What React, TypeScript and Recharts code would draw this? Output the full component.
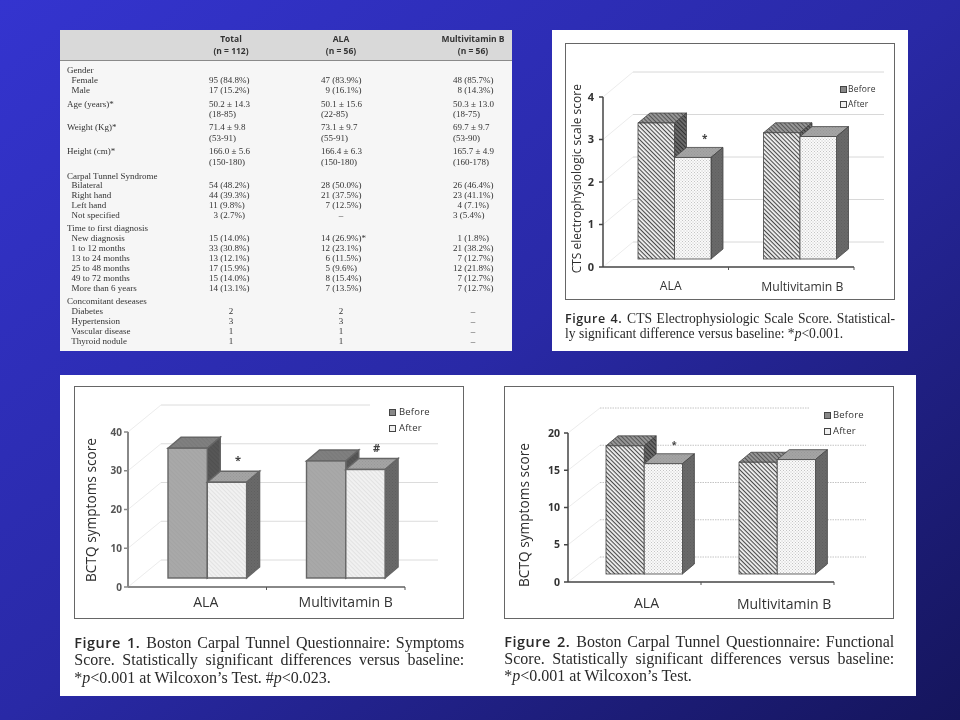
import React from "react";
import { BarChart, Bar, XAxis, YAxis, CartesianGrid, Legend } from "recharts";

const categories = ["ALA", "Multivitamin B"];

const fig4Before = [3.2, 2.97];
const fig4After = [2.39, 2.88];
const fig4Ticks = [0, 1, 2, 3, 4];
const fig4Marks = ["*", ""];

const fig1Before = [33.5, 30.2];
const fig1After = [24.7, 28];
const fig1Ticks = [0, 10, 20, 30, 40];
const fig1Marks = ["*", "#"];

const fig2Before = [17.2, 15];
const fig2After = [14.8, 15.35];
const fig2Ticks = [0, 5, 10, 15, 20];
const fig2Marks = ["*", ""];

const tableHeads = [
  ["Total", "(n = 112)"],
  ["ALA", "(n = 56)"],
  ["Multivitamin B", "(n = 56)"],
];

const tableRows = [
  ["Gender", "", "", ""],
  ["  Female", "95 (84.8%)", "47 (83.9%)", "48 (85.7%)"],
  ["  Male", "17 (15.2%)", "\u20079 (16.1%)", "\u20078 (14.3%)"],
  ["Age (years)*", "50.2 ± 14.3", "50.1 ± 15.6", "50.3 ± 13.0"],
  ["", "(18-85)", "(22-85)", "(18-75)"],
  ["Weight (Kg)*", "71.4 ± 9.8", "73.1 ± 9.7", "69.7 ± 9.7"],
  ["", "(53-91)", "(55-91)", "(53-90)"],
  ["Height (cm)*", "166.0 ± 5.6", "166.4 ± 6.3", "165.7 ± 4.9"],
  ["", "(150-180)", "(150-180)", "(160-178)"],
  ["Carpal Tunnel Syndrome", "", "", ""],
  ["  Bilateral", "54 (48.2%)", "28 (50.0%)", "26 (46.4%)"],
  ["  Right hand", "44 (39.3%)", "21 (37.5%)", "23 (41.1%)"],
  ["  Left hand", "11 (9.8%)", "\u20077 (12.5%)", "\u20074 (7.1%)"],
  ["  Not specified", "\u20073 (2.7%)", "–", "3 (5.4%)"],
  ["Time to first diagnosis", "", "", ""],
  ["  New diagnosis", "15 (14.0%)", "14 (26.9%)*", "\u20071 (1.8%)"],
  ["  1 to 12 months", "33 (30.8%)", "12 (23.1%)", "21 (38.2%)"],
  ["  13 to 24 months", "13 (12.1%)", "\u20076 (11.5%)", "\u20077 (12.7%)"],
  ["  25 to 48 months", "17 (15.9%)", "\u20075 (9.6%)", "12 (21.8%)"],
  ["  49 to 72 months", "15 (14.0%)", "\u20078 (15.4%)", "\u20077 (12.7%)"],
  ["  More than 6 years", "14 (13.1%)", "\u20077 (13.5%)", "\u20077 (12.7%)"],
  ["Concomitant deseases", "", "", ""],
  ["  Diabetes", "2", "2", "–"],
  ["  Hypertension", "3", "3", "–"],
  ["  Vascular disease", "1", "1", "–"],
  ["  Thyroid nodule", "1", "1", "–"],
];
const tableRowY = [70, 80, 90, 103.5, 114, 127, 138, 151, 162, 175.5, 184.5, 194.5, 204.5, 214.5, 228, 238, 248, 258, 268, 278, 288, 301, 311, 321, 331, 341];

const SANS = "'Open Sans', sans-serif";
const SERIF = "'Liberation Serif', serif";

// hatch fills shared by the before/after faces
function Patterns({ id, solid }: { id: string; solid: boolean }) {
  const hatch = (name: string, bg: string, ink: string, gap = 3) => (
    <pattern id={id + name} width={gap} height={gap} patternUnits="userSpaceOnUse" patternTransform="rotate(45)">
      <rect width={gap} height={gap} fill={bg} />
      <rect width={gap} height={1.1} fill={ink} />
    </pattern>
  );
  const dots = (name: string, bg: string, ink: string) => (
    <pattern id={id + name} width={3} height={3} patternUnits="userSpaceOnUse">
      <rect width={3} height={3} fill={bg} />
      <rect width={1} height={1} fill={ink} />
      <rect x={1.5} y={1.5} width={1} height={1} fill={ink} />
    </pattern>
  );
  return (
    <defs>
      {solid ? hatch("bf", "#a9a9a9", "#a4a4a4") : hatch("bf", "#f2f2f2", "#4a4a4a")}
      {solid ? hatch("bt", "#808080", "#7a7a7a") : hatch("bt", "#9a9a9a", "#555555")}
      {solid ? hatch("bs", "#575757", "#505050") : hatch("bs", "#6e6e6e", "#333333")}
      {solid ? hatch("af", "#f2f2f2", "#e2e2e2") : dots("af", "#fafafa", "#c4c4c4")}
      {dots("at", "#a4a4a4", "#989898")}
      {dots("as", "#696969", "#5f5f5f")}
    </defs>
  );
}

function makeBarShape(id: string, kind: "b" | "a", cfg: any, marks?: string[]) {
  return (props: any) => {
    const { x, y, width, height, index } = props;
    const left = x + cfg.shiftX;
    const top = y - cfg.shiftY;
    const right = left + width;
    const bottom = top + height;
    const dx = cfg.sideX;
    const dy = cfg.sideY;
    const edge = { stroke: cfg.edgeColor, strokeWidth: cfg.edgeWidth };
    const mark = marks ? marks[index] : "";
    return (
      <g>
        <polygon points={`${left},${top} ${left + dx},${top - dy} ${right + dx},${top - dy} ${right},${top}`} fill={`url(#${id}${kind}t)`} {...edge} />
        <polygon points={`${right},${top} ${right + dx},${top - dy} ${right + dx},${bottom - dy} ${right},${bottom}`} fill={`url(#${id}${kind}s)`} {...edge} />
        <rect x={left} y={top} width={width} height={height} fill={`url(#${id}${kind}f)`} {...edge} />
        {mark ? (
          <text x={left + width / 2 + cfg.markX} y={top + cfg.markY} textAnchor="middle" fontFamily={SANS} fontSize={cfg.markSize} fontWeight={700} fill="#444">
            {mark}
          </text>
        ) : null}
      </g>
    );
  };
}

function Figure({ id, cfg, before, after, ticks, marks, solid }: any) {
  const data = categories.map((name, i) => ({ name, Before: before[i], After: after[i] }));
  const w = cfg.frame[2];
  const h = cfg.frame[3];
  const plotLeft = cfg.plot[0] - cfg.frame[0];
  const plotTop = cfg.plot[1] - cfg.frame[1];
  const plotW = cfg.plot[2];
  const plotH = cfg.plot[3];
  const band = plotW / categories.length;
  const axisY = plotTop + plotH;

  const gridLine = (p: any) => (
    <g key={p.key ?? p.index}>
      <line x1={p.x1} y1={p.y1} x2={p.x1 + cfg.backX} y2={p.y1 - cfg.backY} stroke="#ececec" strokeWidth={1} />
      <line x1={p.x1 + cfg.backX} y1={p.y1 - cfg.backY} x2={p.x2 + cfg.backX} y2={p.y1 - cfg.backY} stroke={cfg.gridColor} strokeWidth={1} strokeDasharray={cfg.gridDash} />
    </g>
  );

  const xTick = (p: any) => (
    <g>
      <line x1={p.x + band / 2} y1={axisY} x2={p.x + band / 2} y2={axisY + 3} stroke="#555" />
      <text x={p.x + cfg.labelDx[p.index]} y={p.y + cfg.labelY[p.index]} textAnchor="middle" fontFamily={SANS} fontSize={cfg.labelSize} fill="#333">
        {p.payload.value}
      </text>
    </g>
  );

  const legendBox = (p: any) => {
    const items = ["Before", "After"].map((name) => p.payload.find((it: any) => it.value === name)).filter(Boolean);
    return (
      <div style={{ background: "#fff", width: cfg.legendBox[2], height: cfg.legendBox[3], position: "relative" }}>
        {items.map((item: any, i: number) => (
          <div key={item.value} style={{ position: "absolute", left: cfg.legendPad, top: cfg.legendRows[i] - 7, height: 14, lineHeight: "14px", fontFamily: SANS, fontSize: cfg.legendSize, color: "#333", whiteSpace: "nowrap", letterSpacing: 0.2 }}>
            <span style={{ position: "absolute", left: -cfg.legendGap, top: 3.5, width: 5, height: 5, border: "1px solid #444", background: i === 0 ? "#888" : "#f0f0f0" }} />
            {item.value}
          </div>
        ))}
      </div>
    );
  };

  return (
    <div style={{ position: "absolute", left: cfg.frame[0], top: cfg.frame[1], width: w, height: h, background: "#fff", outline: "1.5px solid #666", outlineOffset: -1 }}>
      <BarChart
        width={w}
        height={h}
        data={data}
        barSize={cfg.barSize}
        barGap={0}
        margin={{ left: 0, top: plotTop, right: w - plotLeft - plotW, bottom: 0 }}
      >
        <Patterns id={id} solid={solid} />
        <CartesianGrid vertical={false} horizontal={gridLine} />
        <XAxis dataKey="name" height={h - plotTop - plotH} tick={xTick} tickLine={false} axisLine={{ stroke: cfg.axisColor, strokeWidth: cfg.axisWidth }} interval={0} />
        <YAxis
          width={plotLeft}
          domain={[ticks[0], ticks[ticks.length - 1]]}
          ticks={ticks}
          interval={0}
          tickSize={4}
          tickMargin={cfg.tickMargin}
          tickLine={{ stroke: cfg.axisColor, strokeWidth: 1.5 }}
          axisLine={{ stroke: cfg.axisColor, strokeWidth: cfg.axisWidth }}
          tick={{ fontFamily: SANS, fontSize: cfg.tickSize, fontWeight: 700, fill: cfg.tickColor }}
        />
        <Bar dataKey="Before" isAnimationActive={false} shape={makeBarShape(id, "b", cfg)} />
        <Bar dataKey="After" isAnimationActive={false} shape={makeBarShape(id, "a", cfg, marks)} />
        <Legend
          layout="horizontal"
          align="center"
          verticalAlign="middle"
          content={legendBox}
          wrapperStyle={{ position: "absolute", left: cfg.legendBox[0], top: cfg.legendBox[1], width: cfg.legendBox[2], height: cfg.legendBox[3] }}
        />
        <text
          x={cfg.titleX}
          y={cfg.titleY}
          transform={`rotate(-90 ${cfg.titleX} ${cfg.titleY})`}
          textAnchor="middle"
          dominantBaseline="central"
          fontFamily={SANS}
          fontSize={cfg.titleSize}
          fill="#2e2e2e"
        >
          {cfg.title}
        </text>
      </BarChart>
    </div>
  );
}

function withItalicP(text: string) {
  const parts = text.split("@");
  return parts.map((part, i) => (i % 2 ? <i key={i}>{part}</i> : <span key={i}>{part}</span>));
}

function Caption({ left, width, tops, size, boldSize, head, lines, justified }: any) {
  return (
    <>
      {lines.map((line: string, i: number) => (
        <div
          key={i}
          style={{
            position: "absolute",
            left,
            top: tops[i] - 9,
            width,
            height: 18,
            lineHeight: "18px",
            fontFamily: SERIF,
            fontSize: size,
            color: "#2a2a2a",
            whiteSpace: "nowrap",
            textAlign: "left",
            textAlignLast: i < justified ? "justify" : "left",
          }}
        >
          {i === 0 ? <b style={{ fontFamily: SANS, fontSize: boldSize, fontWeight: 600, letterSpacing: 0.5 }}>{head} </b> : null}
          {withItalicP(line)}
        </div>
      ))}
    </>
  );
}

function DemographicsTable() {
  const colX = [209, 321, 453];
  const colMid = [231, 341, 473];
  return (
    <div style={{ position: "absolute", left: 60, top: 30, width: 452, height: 321, background: "#f6f6f6" }}>
      <div style={{ position: "absolute", left: 0, top: 0, width: 452, height: 30, background: "#d9d9d9", borderBottom: "1px solid #8a8a8a" }} />
      {tableHeads.map((head, c) =>
        head.map((t, r) => (
          <div key={t + c} style={{ position: "absolute", left: colMid[c] - 60 - 50, width: 100, top: 4 + r * 12, lineHeight: "10px", textAlign: "center", fontFamily: SANS, fontSize: 8.5, fontWeight: 700, color: "#333" }}>
            {t}
          </div>
        ))
      )}
      {tableRows.map((row, r) => (
        <React.Fragment key={r}>
          {row.map((cell, c) => {
            if (!cell) return null;
            const isShort = c > 0 && cell.length === 1;
            const base: React.CSSProperties = { position: "absolute", top: tableRowY[r] - 30 - 5, lineHeight: "10px", fontFamily: SERIF, fontSize: 9, color: "#333", whiteSpace: "pre" };
            if (c === 0) return <div key={c} style={{ ...base, left: 7 }}>{cell}</div>;
            if (isShort) return <div key={c} style={{ ...base, left: colMid[c - 1] - 60 - 20, width: 40, textAlign: "center" }}>{cell}</div>;
            return <div key={c} style={{ ...base, left: colX[c - 1] - 60 }}>{cell}</div>;
          })}
        </React.Fragment>
      ))}
    </div>
  );
}

const fig4Cfg = {
  frame: [565, 43, 330, 257],
  plot: [603, 97, 251, 170],
  barSize: 36.5, shiftX: 9, shiftY: 8, sideX: 12, sideY: 10,
  backX: 30, backY: 25, gridColor: "#d8d8d8", gridDash: undefined,
  edgeColor: "#444", edgeWidth: 0.8,
  axisColor: "#444", axisWidth: 1.5, tickSize: 11, tickColor: "#333", tickMargin: 5,
  labelDx: [5, 11], labelY: [15, 16], labelSize: 12.2,
  markX: 12, markY: -15, markSize: 10,
  title: "CTS electrophysiologic scale score", titleX: 12, titleY: 135.7, titleSize: 12,
  legendBox: [268, 30, 60, 40], legendPad: 15, legendGap: 8, legendRows: [16, 31], legendSize: 8.5,
};

const fig1Cfg = {
  frame: [74, 386, 390, 233],
  plot: [128, 432, 277, 155],
  barSize: 39.3, shiftX: 10, shiftY: 9, sideX: 13, sideY: 11,
  backX: 33, backY: 27, gridColor: "#dcdcdc", gridDash: undefined,
  edgeColor: "#666", edgeWidth: 1.4,
  axisColor: "#888", axisWidth: 2, tickSize: 10, tickColor: "#555", tickMargin: 2,
  labelDx: [8.5, 10], labelY: [12, 12], labelSize: 14,
  markX: 11, markY: -18, markSize: 11,
  title: "BCTQ symptoms score", titleX: 16, titleY: 124, titleSize: 13.7,
  legendBox: [296, 14, 70, 40], legendPad: 29, legendGap: 10, legendRows: [12, 28], legendSize: 9.5,
};

const fig2Cfg = {
  frame: [504, 386, 390, 233],
  plot: [568, 433, 266, 149],
  barSize: 38.2, shiftX: 10, shiftY: 8, sideX: 12, sideY: 10,
  backX: 32, backY: 25, gridColor: "#c4c4c4", gridDash: "1.5 1",
  edgeColor: "#444", edgeWidth: 0.8,
  axisColor: "#444", axisWidth: 1.5, tickSize: 10.5, tickColor: "#333", tickMargin: 4,
  labelDx: [12, 16.6], labelY: [18, 19], labelSize: 14,
  markX: 11, markY: -16, markSize: 9,
  title: "BCTQ symptoms score", titleX: 19.3, titleY: 129, titleSize: 13.7,
  legendBox: [306, 20, 70, 36], legendPad: 23, legendGap: 9, legendRows: [9, 25], legendSize: 9.5,
};

export default function App() {
  return (
    <div
      style={{
        position: "fixed",
        left: 0,
        top: 0,
        width: 960,
        height: 720,
        overflow: "hidden",
        background: "linear-gradient(143deg, #3434cf 0%, #2929a6 50%, #15155c 100%)",
      }}
    >
      {/* the source slide is a soft, low resolution scan */}
      <div style={{ position: "absolute", inset: 0, filter: "blur(0.4px)" }}>
        <DemographicsTable />

        <div style={{ position: "absolute", left: 552, top: 30, width: 356, height: 321, background: "#fff" }} />
        <Figure id="f4" cfg={fig4Cfg} before={fig4Before} after={fig4After} ticks={fig4Ticks} marks={fig4Marks} solid={false} />
        <Caption
          left={565}
          width={330}
          tops={[319, 334]}
          size={13.6}
          boldSize={12.5}
          head="Figure 4."
          lines={["CTS Electrophysiologic Scale Score. Statistical-", "ly significant difference versus baseline: *@p@<0.001."]}
          justified={1}
        />

        <div style={{ position: "absolute", left: 60, top: 375, width: 856, height: 321, background: "#fff" }} />
        <Figure id="f1" cfg={fig1Cfg} before={fig1Before} after={fig1After} ticks={fig1Ticks} marks={fig1Marks} solid={true} />
        <Caption
          left={74.3}
          width={390}
          tops={[642.7, 660.3, 677.7]}
          size={16}
          boldSize={14.5}
          head="Figure 1."
          lines={["Boston Carpal Tunnel Questionnaire: Symptoms", "Score. Statistically significant differences versus baseline:", "*@p@<0.001 at Wilcoxon’s Test. #@p@<0.023."]}
          justified={2}
        />

        <Figure id="f2" cfg={fig2Cfg} before={fig2Before} after={fig2After} ticks={fig2Ticks} marks={fig2Marks} solid={false} />
        <Caption
          left={504.3}
          width={390}
          tops={[641.7, 659, 676]}
          size={16}
          boldSize={14.5}
          head="Figure 2."
          lines={["Boston Carpal Tunnel Questionnaire: Functional", "Score. Statistically significant differences versus baseline:", "*@p@<0.001 at Wilcoxon’s Test."]}
          justified={2}
        />
      </div>
    </div>
  );
}
